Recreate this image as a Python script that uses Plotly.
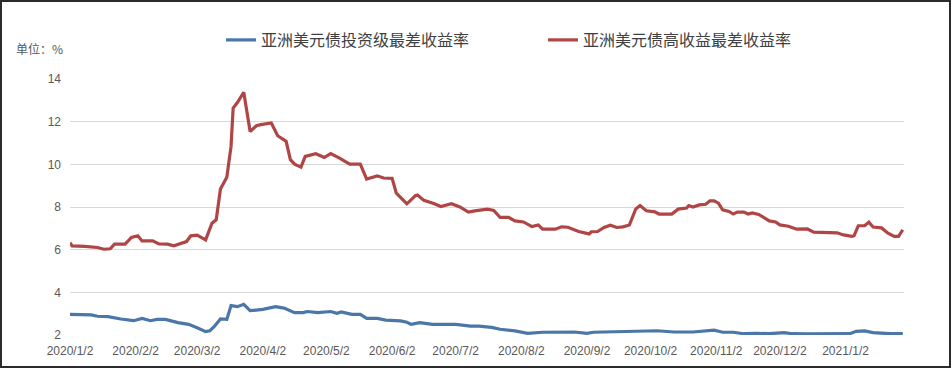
import plotly.graph_objects as go

# --- data ---
ig_dates = ["2020-01-02","2020-01-12","2020-01-15","2020-01-20","2020-01-26","2020-02-01","2020-02-05",
            "2020-02-09","2020-02-12","2020-02-16","2020-02-22","2020-02-27","2020-03-02","2020-03-06",
            "2020-03-08","2020-03-10","2020-03-13","2020-03-16","2020-03-18","2020-03-21","2020-03-24",
            "2020-03-27","2020-04-02","2020-04-08","2020-04-12","2020-04-17","2020-04-21","2020-04-23",
            "2020-04-28","2020-05-04","2020-05-07","2020-05-09","2020-05-14","2020-05-18","2020-05-21",
            "2020-05-26","2020-05-30","2020-06-06","2020-06-09","2020-06-11","2020-06-15","2020-06-21",
            "2020-07-02","2020-07-09","2020-07-13","2020-07-19","2020-07-23","2020-07-30","2020-08-05",
            "2020-08-12","2020-08-27","2020-09-02","2020-09-05","2020-09-23","2020-10-05","2020-10-13",
            "2020-10-22","2020-11-01","2020-11-05","2020-11-10","2020-11-15","2020-11-21","2020-11-27",
            "2020-12-04","2020-12-08","2020-12-15","2020-12-23","2021-01-04","2021-01-07","2021-01-11",
            "2021-01-15","2021-01-23","2021-01-29"]
ig_values = [2.97,2.94,2.88,2.86,2.75,2.67,2.78,2.67,2.73,2.73,2.58,2.50,2.34,2.16,2.20,2.39,2.75,2.73,
             3.38,3.33,3.44,3.14,3.20,3.33,3.26,3.05,3.05,3.10,3.05,3.10,3.02,3.08,2.97,2.97,2.78,2.78,
             2.70,2.66,2.60,2.50,2.58,2.50,2.50,2.42,2.42,2.36,2.27,2.19,2.08,2.13,2.14,2.08,2.13,2.17,
             2.20,2.14,2.14,2.23,2.13,2.13,2.06,2.08,2.06,2.11,2.06,2.05,2.06,2.06,2.17,2.19,2.11,2.06,2.06]

hy_dates = ["2020-01-02","2020-01-03","2020-01-09","2020-01-15","2020-01-18","2020-01-21","2020-01-23",
            "2020-01-28","2020-01-31","2020-02-03","2020-02-05","2020-02-10","2020-02-13","2020-02-17",
            "2020-02-20","2020-02-23","2020-02-26","2020-02-28","2020-03-02","2020-03-06","2020-03-09",
            "2020-03-11","2020-03-13","2020-03-16","2020-03-18","2020-03-19","2020-03-21","2020-03-24",
            "2020-03-27","2020-03-30","2020-04-01","2020-04-06","2020-04-09","2020-04-13","2020-04-15",
            "2020-04-17","2020-04-20","2020-04-22","2020-04-27","2020-05-01","2020-05-04","2020-05-08",
            "2020-05-13","2020-05-18","2020-05-21","2020-05-26","2020-05-29","2020-06-02","2020-06-04",
            "2020-06-09","2020-06-13","2020-06-14","2020-06-17","2020-06-22","2020-06-25","2020-06-30",
            "2020-07-04","2020-07-08","2020-07-11","2020-07-17","2020-07-20","2020-07-23","2020-07-27",
            "2020-07-30","2020-08-03","2020-08-07","2020-08-10","2020-08-12","2020-08-18","2020-08-21",
            "2020-08-24","2020-08-29","2020-09-03","2020-09-04","2020-09-07","2020-09-10","2020-09-13",
            "2020-09-16","2020-09-19","2020-09-22","2020-09-25","2020-09-27","2020-09-30","2020-10-04",
            "2020-10-06","2020-10-12","2020-10-15","2020-10-19","2020-10-20","2020-10-22","2020-10-25",
            "2020-10-28","2020-10-30","2020-11-01","2020-11-03","2020-11-05","2020-11-08","2020-11-10",
            "2020-11-12","2020-11-15","2020-11-17","2020-11-19","2020-11-22","2020-11-27","2020-11-30",
            "2020-12-02","2020-12-06","2020-12-10","2020-12-15","2020-12-18","2020-12-23","2020-12-29",
            "2021-01-01","2021-01-05","2021-01-06","2021-01-08","2021-01-11","2021-01-13","2021-01-15",
            "2021-01-19","2021-01-22","2021-01-25","2021-01-27","2021-01-29"]
hy_values = [6.33,6.18,6.15,6.10,6.02,6.04,6.26,6.26,6.57,6.65,6.41,6.41,6.27,6.26,6.18,6.30,6.38,6.65,
             6.68,6.46,7.24,7.40,8.84,9.40,10.84,12.64,12.90,13.38,11.54,11.81,11.86,11.94,11.34,11.08,
             10.22,10.01,9.87,10.37,10.50,10.32,10.50,10.30,10.01,10.01,9.31,9.46,9.36,9.34,8.65,8.15,
             8.53,8.56,8.31,8.15,8.02,8.15,8.00,7.76,7.82,7.90,7.84,7.51,7.51,7.35,7.30,7.08,7.16,6.96,
             6.96,7.07,7.05,6.85,6.74,6.84,6.85,7.04,7.15,7.04,7.07,7.16,7.91,8.07,7.82,7.77,7.67,7.67,
             7.90,7.95,8.07,8.00,8.10,8.13,8.29,8.29,8.18,7.87,7.79,7.67,7.76,7.76,7.67,7.72,7.65,7.35,
             7.30,7.16,7.10,6.96,6.97,6.82,6.79,6.79,6.69,6.62,6.65,7.12,7.12,7.29,7.06,7.02,6.77,6.62,
             6.62,6.93]

ig_name = "亚洲美元债投资级最差收益率"
hy_name = "亚洲美元债高收益最差收益率"

tick_dates = ["2020-01-02","2020-02-02","2020-03-02","2020-04-02","2020-05-02","2020-06-02","2020-07-02",
              "2020-08-02","2020-09-02","2020-10-02","2020-11-02","2020-12-02","2021-01-02"]
tick_labels = ["2020/1/2","2020/2/2","2020/3/2","2020/4/2","2020/5/2","2020/6/2","2020/7/2",
               "2020/8/2","2020/9/2","2020/10/2","2020/11/2","2020/12/2","2021/1/2"]
y_ticks = [2, 4, 6, 8, 10, 12, 14]
unit_label = "单位：%"

# --- figure ---
W, H = 952, 369
ML, MR, MT, MB = 70, 48, 79, 34
PW, PH = W - ML - MR, H - MT - MB

fig = go.Figure()
fig.add_trace(go.Scatter(x=ig_dates, y=ig_values, mode="lines", name=ig_name,
                         line=dict(color="#4a76a8", width=3.2)))
fig.add_trace(go.Scatter(x=hy_dates, y=hy_values, mode="lines", name=hy_name,
                         line=dict(color="#b04545", width=3.2)))

fig.update_layout(
    width=W, height=H,
    margin=dict(l=ML, r=MR, t=MT, b=MB, autoexpand=False),
    paper_bgcolor="white", plot_bgcolor="white",
    font=dict(family="Noto Sans CJK SC, sans-serif", color="#595959"),
    showlegend=True,
    legend=dict(orientation="h", x=(221 - ML) / PW, xanchor="left", y=1 + (MT - 40) / PH, yanchor="middle",
                font=dict(size=16, color="#404040", family="Noto Sans CJK SC"),
                entrywidth=277, itemwidth=30, bgcolor="rgba(0,0,0,0)"),
    xaxis=dict(type="date", range=["2020-01-02", "2021-01-29 14:00"], automargin=False,
               tickvals=tick_dates, ticktext=tick_labels, showgrid=False,
               showline=False, zeroline=False, ticks="", ticklabelstandoff=7,
               tickfont=dict(size=12, family="Liberation Sans, Arial", color="#595959")),
    yaxis=dict(range=[2, 14], tickvals=y_ticks, showgrid=True, gridcolor="#d9d9d9", gridwidth=1,
               automargin=False, zeroline=False, showline=False, ticks="", ticklabelstandoff=8,
               tickfont=dict(size=12, family="Liberation Sans, Arial", color="#595959")),
)

fig.add_annotation(text=unit_label, xref="paper", yref="paper",
                   x=(39 - ML) / PW, y=1 + (MT - 48) / PH, xanchor="center", yanchor="middle",
                   showarrow=False, font=dict(size=12, color="#595959", family="Noto Sans CJK SC"))

# outer frame of the picture
fig.add_shape(type="rect", xref="paper", yref="paper",
              x0=(1 - ML) / PW, x1=(W - 2 - ML) / PW,
              y0=-(MB - 2) / PH, y1=1 + (MT - 1) / PH,
              line=dict(color="#2b2b2b", width=2), fillcolor="rgba(0,0,0,0)", layer="above")

fig.write_html("out.html", config={"displayModeBar": False},
               post_script="document.body.style.margin='0';")
